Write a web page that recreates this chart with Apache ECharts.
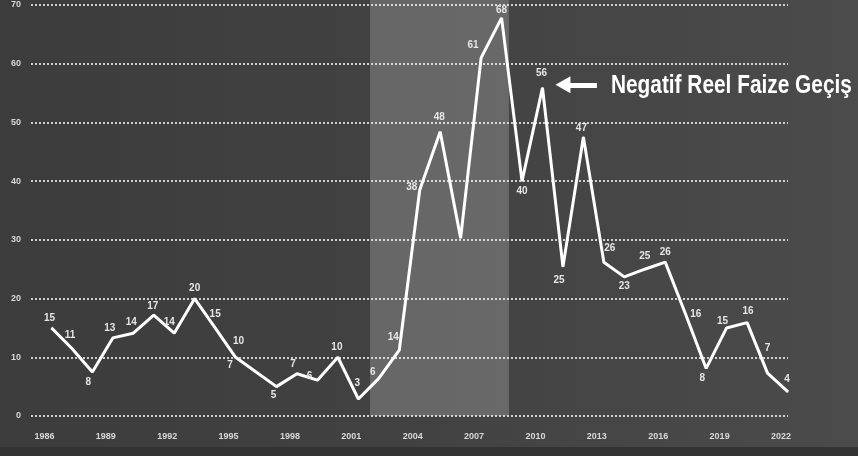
<!DOCTYPE html>
<html>
<head>
<meta charset="utf-8">
<script src="https://cdn.jsdelivr.net/npm/echarts@6/dist/echarts.min.js"></script>
<style>html,body{margin:0;padding:0;background:#424242;}#c{width:858px;height:456px;}</style>
</head>
<body>
<div id="c"></div>
<script>
// ---- data ----
const years = [1986,1987,1988,1989,1990,1991,1992,1993,1994,1995,1996,1997,1998,1999,2000,2001,2002,2003,2004,2005,2006,2007,2008,2009,2010,2011,2012,2013,2014,2015,2016,2017,2018,2019,2020,2021,2022];
const values = [15,11.5,7.5,13.3,14.1,17.2,14.1,20,15,10,7.5,5,7.2,6.1,10,2.9,6.4,11.2,38.5,48.4,30.3,61,67.8,40,55.9,25.4,47.5,26.2,23.7,25,26.2,17.3,8.1,15,15.9,7.3,4.1];
const valueLabels = ["15","11","8","13","14","17","14","20","15","10","7","5","7","6","10","3","6","14","38","48","","61","68","40","56","25","47","26","23","25","26","16","8","15","16","7","4"];
const xTickLabels = [1986,1989,1992,1995,1998,2001,2004,2007,2010,2013,2016,2019,2022];
const yTicks = [0,10,20,30,40,50,60,70];
const shadedPeriod = [2001.57, 2008.36];
const annotationText = "Negatif Reel Faize Geçiş";
const annotationAt = {from: 2011.0, to: 2012.66, value: 56.4};

// ---- label placement (offset of each value label from its point, px) ----
const labelOffsets = [[-2,-10],[-2,-13],[-4,10],[-3,-10],[-2,-11],[-1,-9],[-5,-11],[0,-10],[0,-14],[3,-16],[-26,-7],[-3,9],[-4,-9],[-8,-4],[-1,-10],[-1,-16],[-6,-6],[-6,-13],[-8,-3],[-1,-15],[0,0],[-8,-13],[0,-8],[0,10],[-1,-15],[-4,13],[-2,-9],[6,-14],[0,9],[0,-13],[0,-10],[10,0],[-4,10],[-4,-7],[1,-11],[0,-25],[-1,-13]];

const font = '"Liberation Sans", "DejaVu Sans", sans-serif';
const bandColor = 'rgba(255,255,255,0.2)';

const seriesData = years.map((y, i) => ({
  value: [y, values[i]],
  label: {
    show: valueLabels[i] !== "",
    formatter: valueLabels[i],
    position: 'inside',
    offset: labelOffsets[i]
  }
}));

const chart = echarts.init(document.getElementById('c'), null, {renderer: 'canvas'});
chart.setOption({
  animation: false,
  backgroundColor: {
    type: 'linear', x: 0, y: 0, x2: 1, y2: 0,
    colorStops: [{offset: 0, color: '#3c3c3c'}, {offset: 0.5, color: '#424242'}, {offset: 1, color: '#4b4b4b'}]
  },
  grid: {left: 31, right: 70, top: 5, bottom: 40},
  xAxis: {
    type: 'value',
    min: 1985, max: 2022,
    axisLine: {show: false},
    axisTick: {show: false},
    splitLine: {show: false},
    axisLabel: {
      customValues: xTickLabels,
      formatter: v => String(v),
      color: '#d8d8d8', fontFamily: font, fontWeight: 'bold', fontSize: 9,
      margin: 16, padding: [0, 14, 0, 0]
    }
  },
  yAxis: {
    type: 'value',
    min: yTicks[0], max: yTicks[yTicks.length - 1], interval: 10,
    axisLine: {show: false},
    axisTick: {show: false},
    axisLabel: {color: '#d8d8d8', fontFamily: font, fontWeight: 'bold', fontSize: 9, margin: 10},
    splitLine: {lineStyle: {color: 'rgba(255,255,255,0.75)', width: 2, type: [2, 2]}}
  },
  series: [{
    type: 'line',
    data: seriesData,
    symbol: 'circle', symbolSize: 1,
    itemStyle: {color: '#ffffff'},
    lineStyle: {color: '#ffffff', width: 3},
    label: {color: '#e6e6e6', fontFamily: font, fontWeight: 'bold', fontSize: 10},
    markArea: {
      silent: true,
      itemStyle: {color: bandColor},
      data: [[{xAxis: shadedPeriod[0], yAxis: 0}, {xAxis: shadedPeriod[1], yAxis: 70}]]
    },
    markLine: {
      silent: true,
      symbol: ['triangle', 'none'],
      symbolSize: [17, 15],
      lineStyle: {color: '#ffffff', width: 5, type: 'solid'},
      label: {show: false},
      data: [[{coord: [annotationAt.from, annotationAt.value]}, {coord: [annotationAt.to, annotationAt.value]}]]
    }
  }]
});

// condensed annotation text anchored to the arrow end; band continued to the top edge
const toPx = v => chart.convertToPixel({gridIndex: 0}, v);
const endPx = toPx([annotationAt.to, annotationAt.value]);
const topY = toPx([shadedPeriod[0], yTicks[yTicks.length - 1]])[1];
const bandX0 = toPx([shadedPeriod[0], 0])[0];
const bandX1 = toPx([shadedPeriod[1], 0])[0];
const annFontSize = 25;
const ctx = document.createElement('canvas').getContext('2d');
ctx.font = 'bold ' + annFontSize + 'px ' + font;
const naturalW = ctx.measureText(annotationText).width;
const targetW = 241;
const sx = targetW / naturalW;
const chartW = chart.getWidth(), chartH = chart.getHeight();
chart.setOption({
  graphic: [
    {
      type: 'rect', shape: {x: 0, y: chartH - 9, width: chartW, height: 9},
      style: {fill: '#333333'}, z: -1, silent: true
    },
    {
      type: 'rect',
      shape: {x: bandX0, y: 0, width: bandX1 - bandX0, height: topY},
      style: {fill: bandColor}, silent: true, z: 0
    },
    {
      type: 'text',
      x: endPx[0] + 14, y: endPx[1] + 1,
      scaleX: sx, scaleY: 1,
      style: {
        text: annotationText, fill: '#ffffff',
        font: 'bold ' + annFontSize + 'px ' + font,
        verticalAlign: 'middle', align: 'left'
      },
      silent: true, z: 10
    }
  ]
});
</script>
</body>
</html>
